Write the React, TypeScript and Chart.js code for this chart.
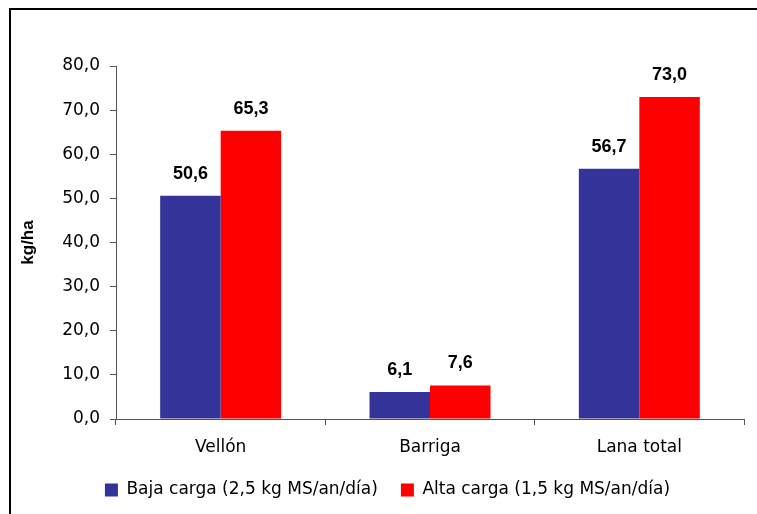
import React, { useEffect, useRef } from "react";
import { Chart, registerables } from "chart.js";

Chart.register(...registerables);

const categories = ["Vellón", "Barriga", "Lana total"];
const bajaCarga = [50.6, 6.1, 56.7];
const altaCarga = [65.3, 7.6, 73.0];
const seriesNames = ["Baja carga (2,5 kg MS/an/día)", "Alta carga (1,5 kg MS/an/día)"];
const seriesColors = ["#333399", "#FF0000"];
const yMin = 0;
const yMax = 80;
const yStep = 10;
const yTitle = "kg/ha";

const fmt = (v: number) => v.toFixed(1).replace(".", ",");

const REG = "'DejaVu Sans', sans-serif";
const ARIAL = "'Liberation Sans', Arial, sans-serif";

const framePlugin = {
  id: "frame",
  beforeDraw(chart: any) {
    const ctx = chart.ctx;
    ctx.save();
    ctx.fillStyle = "#ffffff";
    ctx.fillRect(0, 0, chart.width, chart.height);
    ctx.fillStyle = "#000000";
    ctx.fillRect(9, 8, chart.width - 9, 2);
    ctx.fillRect(9, 8, 2, chart.height - 8);
    ctx.restore();
  },
};

const labelPlugin = {
  id: "valueLabels",
  afterDatasetsDraw(chart: any) {
    const ctx = chart.ctx;
    ctx.save();
    ctx.font = `bold 18px ${ARIAL}`;
    ctx.fillStyle = "#000000";
    ctx.textAlign = "center";
    ctx.textBaseline = "alphabetic";
    chart.data.datasets.forEach((ds: any, i: number) => {
      const meta = chart.getDatasetMeta(i);
      meta.data.forEach((el: any, j: number) => {
        ctx.fillText(fmt(ds.data[j]), el.x, el.y - 17);
      });
    });
    ctx.restore();
  },
};

export default function App() {
  const ref = useRef<HTMLCanvasElement | null>(null);
  useEffect(() => {
    if (!ref.current) return;
    const chart = new Chart(ref.current, {
      type: "bar",
      data: {
        labels: categories,
        datasets: [
          {
            label: seriesNames[0],
            data: bajaCarga,
            backgroundColor: seriesColors[0],
            borderWidth: 0,
            categoryPercentage: 0.578,
            barPercentage: 1,
          },
          {
            label: seriesNames[1],
            data: altaCarga,
            backgroundColor: seriesColors[1],
            borderWidth: 0,
            categoryPercentage: 0.578,
            barPercentage: 1,
          },
        ],
      },
      options: {
        animation: false,
        responsive: true,
        maintainAspectRatio: false,
        layout: { padding: { left: 31, right: 13, top: 66, bottom: 5.5 } },
        plugins: {
          tooltip: { enabled: false },
          legend: {
            display: true,
            position: "bottom",
            labels: {
              boxWidth: 13,
              boxHeight: 13,
              padding: 23,
              color: "#000000",
              font: { family: REG, size: 17 },
            },
          },
        },
        scales: {
          x: {
            grid: {
              display: true,
              drawOnChartArea: false,
              drawTicks: true,
              tickLength: 6,
              color: "#555555",
              offset: true,
            },
            border: { display: true, color: "#555555", width: 1 },
            ticks: {
              color: "#000000",
              padding: 12,
              font: { family: REG, size: 17 },
              maxRotation: 0,
            },
            afterFit(scale: any) {
              scale.height = 39.5;
            },
          },
          y: {
            min: yMin,
            max: yMax,
            grid: {
              display: true,
              drawOnChartArea: false,
              drawTicks: true,
              tickLength: 6,
              color: "#555555",
            },
            border: { display: true, color: "#555555", width: 1 },
            ticks: {
              stepSize: yStep,
              color: "#000000",
              padding: 10,
              font: { family: REG, size: 17 },
              callback: (v: any) => fmt(Number(v)),
            },
            title: {
              display: true,
              text: yTitle,
              color: "#000000",
              font: { family: ARIAL, size: 17, weight: "bold" },
              padding: { top: -13.2, bottom: 0 },
            },
            afterFit(scale: any) {
              scale.width = 85;
            },
          },
        },
      },
      plugins: [framePlugin, labelPlugin],
    });
    return () => chart.destroy();
  }, []);
  return (
    <div style={{ position: "fixed", left: 0, top: 0, width: 757, height: 514, background: "#fff" }}>
      <canvas ref={ref} />
    </div>
  );
}
